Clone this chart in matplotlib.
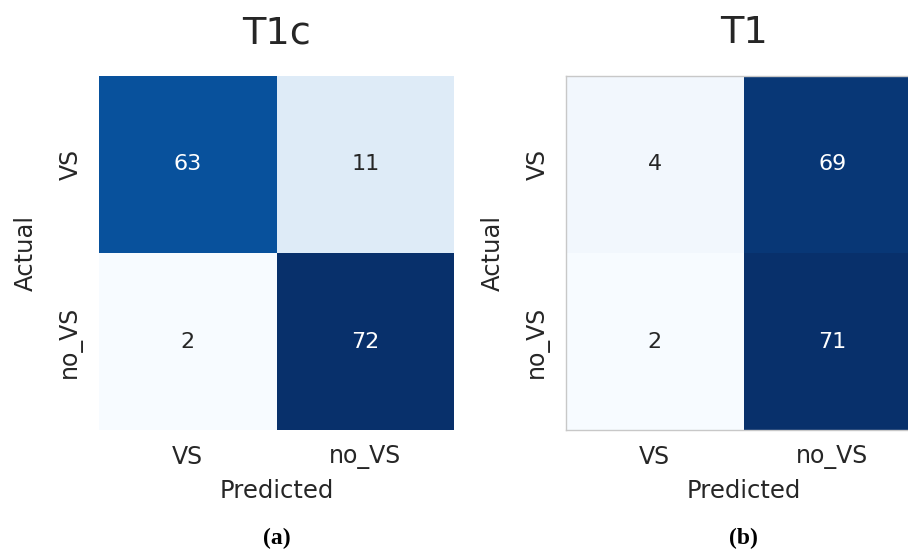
import matplotlib
matplotlib.use("Agg")
import matplotlib.pyplot as plt
import numpy as np
import seaborn as sns

# confusion matrices (rows = actual, cols = predicted)
class_labels = ["VS", "no_VS"]
cm_t1c = [[63, 11],
          [2, 72]]
cm_t1 = [[4, 69],
         [2, 71]]
titles = ["T1c", "T1"]
captions = ["(a)", "(b)"]

fig = plt.figure(figsize=(9.08, 5.5), dpi=100)

# axes placed in pixels of the 908x550 canvas: left, bottom, width, height
W, H = 908.0, 550.0
boxes = [(99, 120, 355, 354), (566, 120, 355, 354)]

for cm, title, cap, (x0, y0, w, h) in zip([cm_t1c, cm_t1], titles, captions, boxes):
    ax = fig.add_axes([x0 / W, y0 / H, w / W, h / H])
    sns.heatmap(np.array(cm), annot=True, fmt="d", cmap="Blues", cbar=False,
                xticklabels=class_labels, yticklabels=class_labels,
                annot_kws={"size": 16}, ax=ax)
    ax.set_title(title, fontsize=27.5, pad=23.5, color="#262626")
    ax.set_xlabel("Predicted", fontsize=17.5, labelpad=7, color="#262626")
    ax.set_ylabel("Actual", fontsize=17.5, labelpad=15, color="#262626")
    ax.tick_params(axis="both", length=0, labelsize=17, colors="#262626")
    ax.tick_params(axis="x", pad=11)
    ax.tick_params(axis="y", pad=12)
    plt.setp(ax.get_yticklabels(), rotation=90, va="center")
    plt.setp(ax.get_xticklabels(), rotation=0)

    # caption under each panel
    fig.text((x0 + w / 2) / W, 1 - 538 / H, cap, ha="center", va="center",
             fontsize=17, fontweight="bold", family=["Liberation Serif", "DejaVu Serif"])

# the right-hand matrix has a thin grey frame
ax_r = fig.axes[1]
for side in ["left", "top", "bottom"]:
    ax_r.spines[side].set_visible(True)
    ax_r.spines[side].set_color("#c8c8c8")
    ax_r.spines[side].set_linewidth(1.0)

fig.savefig("out.png", dpi=100)
